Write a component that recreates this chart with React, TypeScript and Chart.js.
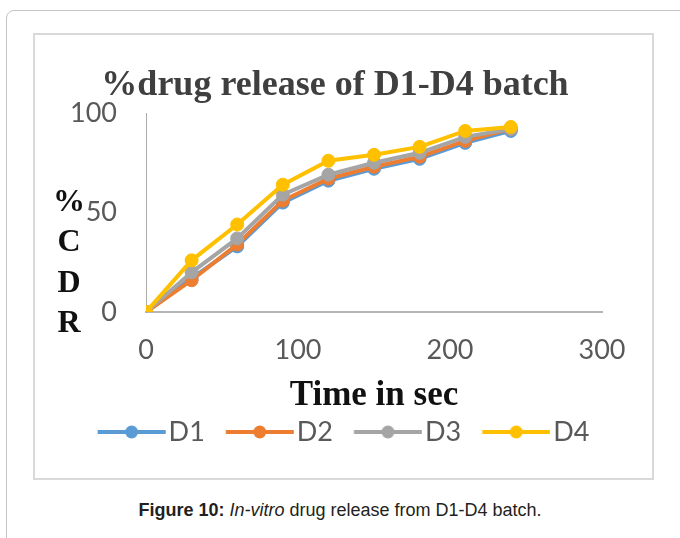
import React, { useEffect, useRef } from 'react';
import { Chart, registerables } from 'chart.js';

Chart.register(...registerables);

// Sampling times (sec) and cumulative % drug release for each batch
const times = [0, 30, 60, 90, 120, 150, 180, 210, 240];
const d1 = [0, 17, 33, 55, 66, 72, 77, 85, 91];
const d2 = [0, 16, 34, 56, 67, 73, 78, 86, 92];
const d3 = [0, 20, 37, 59, 69, 75, 80, 88, 92];
const d4 = [0, 26, 44, 64, 76, 79, 83, 91, 93];

const seriesNames = ['D1', 'D2', 'D3', 'D4'];
const seriesValues = [d1, d2, d3, d4];
const seriesColors = ['#5B9BD5', '#ED7D31', '#A5A5A5', '#FFC000'];

const xRange = [0, 300];
const xStep = 100;
const yRange = [0, 100];
const yStep = 50;

const chartTitle = '%drug release of D1-D4 batch';
const xTitle = 'Time in sec';
const yTitleLetters = ['%', 'C', 'D', 'R'];

const TICK_FONT = 'Lato, "Liberation Sans", sans-serif';
const SERIF = '"Liberation Serif", "Times New Roman", serif';

// Legend swatch: a line with a dot in the middle, drawn into a small canvas
const LEGEND_BOX_W = 74.5;
const LEGEND_LINE_START = 17;
const LEGEND_LINE_END = 85;

function legendSwatch(color: string): HTMLCanvasElement {
  const center = LEGEND_BOX_W / 2;
  const half = Math.ceil(Math.max(center - LEGEND_LINE_START, LEGEND_LINE_END - center));
  const c = document.createElement('canvas');
  c.width = half * 2;
  c.height = 16;
  const g = c.getContext('2d')!;
  const x0 = LEGEND_LINE_START - center + half;
  const x1 = LEGEND_LINE_END - center + half;
  g.strokeStyle = color;
  g.lineWidth = 4;
  g.beginPath();
  g.moveTo(x0, 8);
  g.lineTo(x1, 8);
  g.stroke();
  g.fillStyle = color;
  g.beginPath();
  g.arc((x0 + x1) / 2, 8, 6.5, 0, Math.PI * 2);
  g.fill();
  return c;
}

// Stacked, upright letters for the y-axis title
const stackedYTitle = {
  id: 'stackedYTitle',
  afterDraw(chart: any) {
    const { ctx, chartArea } = chart;
    ctx.save();
    ctx.font = `bold 32px ${SERIF}`;
    ctx.fillStyle = '#111111';
    ctx.textAlign = 'center';
    ctx.textBaseline = 'middle';
    const x = chartArea.left - 77;
    const y0 = chartArea.top + chartArea.height * 0.45;
    yTitleLetters.forEach((ch, i) => ctx.fillText(ch, x, y0 + i * 40.5));
    ctx.restore();
  },
};

function ReleaseChart() {
  const ref = useRef<HTMLCanvasElement | null>(null);

  useEffect(() => {
    if (!ref.current) return;
    const swatches = seriesColors.map(legendSwatch);

    const chart = new Chart(ref.current, {
      type: 'line',
      data: {
        datasets: seriesNames.map((name, s) => ({
          label: name,
          data: times.map((t, i) => ({ x: t, y: seriesValues[s][i] })),
          borderColor: seriesColors[s],
          backgroundColor: seriesColors[s],
          pointBackgroundColor: seriesColors[s],
          pointBorderColor: seriesColors[s],
          borderWidth: 4,
          pointRadius: 6.5,
          pointBorderWidth: 1,
          tension: 0,
          fill: false,
          order: seriesNames.length - s,
        })),
      },
      options: {
        responsive: false,
        animation: false,
        devicePixelRatio: 1,
        layout: { padding: { left: 33, right: 49, top: 0, bottom: 21.5 } },
        plugins: {
          title: {
            display: true,
            text: chartTitle,
            color: '#3f3f3f',
            font: { family: SERIF, size: 36, weight: 'bold', lineHeight: 1.2 },
            padding: { top: 29.4, bottom: 5.4 },
          },
          legend: {
            position: 'bottom',
            labels: {
              usePointStyle: true,
              pointStyleWidth: LEGEND_BOX_W,
              color: '#595959',
              font: { family: TICK_FONT, size: 27 },
              padding: 4,
              generateLabels: (c: any) =>
                c.data.datasets.map((ds: any, i: number) => ({
                  text: ds.label,
                  datasetIndex: i,
                  pointStyle: swatches[i],
                  fillStyle: seriesColors[i],
                  strokeStyle: seriesColors[i],
                  lineWidth: 0,
                  hidden: !c.isDatasetVisible(i),
                  fontColor: '#595959',
                })),
            },
          },
          tooltip: { enabled: false },
        },
        scales: {
          x: {
            type: 'linear',
            min: xRange[0],
            max: xRange[1],
            grid: { display: false, drawTicks: false },
            border: { display: true, color: '#b5b5b5', width: 2 },
            ticks: {
              stepSize: xStep,
              color: '#595959',
              padding: 22,
              font: { family: TICK_FONT, size: 27 },
            },
            title: {
              display: true,
              text: xTitle,
              color: '#111111',
              font: { family: SERIF, size: 35, weight: 'bold', lineHeight: 1.0 },
              padding: { top: -10, bottom: 1 },
            },
          },
          y: {
            min: yRange[0],
            max: yRange[1],
            grid: { display: false, drawTicks: false },
            border: { display: true, color: '#ababab', width: 1 },
            ticks: {
              stepSize: yStep,
              color: '#595959',
              padding: 29,
              font: { family: TICK_FONT, size: 27 },
            },
            afterFit: (scale: any) => {
              scale.width = 78;
            },
          },
        },
      },
      plugins: [stackedYTitle],
    } as any);

    return () => chart.destroy();
  }, []);

  return (
    <canvas
      ref={ref}
      width={616}
      height={442}
      style={{ position: 'absolute', left: 35, top: 35, width: 616, height: 442 }}
    />
  );
}

export default function App() {
  return (
    <div
      style={{
        position: 'fixed',
        left: 0,
        top: 0,
        width: 680,
        height: 538,
        overflow: 'hidden',
        background: '#ffffff',
      }}
    >
      <div
        style={{
          position: 'absolute',
          left: 6,
          top: 10,
          width: 720,
          height: 580,
          border: '1px solid #c4c4c4',
          borderRadius: 8,
          boxSizing: 'border-box',
        }}
      />
      <div
        style={{
          position: 'absolute',
          left: 33,
          top: 33,
          width: 621,
          height: 447,
          border: '2px solid #d9d9d9',
          boxSizing: 'border-box',
        }}
      />
      <ReleaseChart />
      <div
        style={{
          position: 'absolute',
          left: 0,
          top: 499,
          width: 680,
          textAlign: 'center',
          fontFamily: '"Liberation Sans", Arial, sans-serif',
          fontSize: 18,
          lineHeight: '22px',
          color: '#231f20',
        }}
      >
        <b>Figure 10:</b> <i>In-vitro</i> drug release from D1-D4 batch.
      </div>
    </div>
  );
}
